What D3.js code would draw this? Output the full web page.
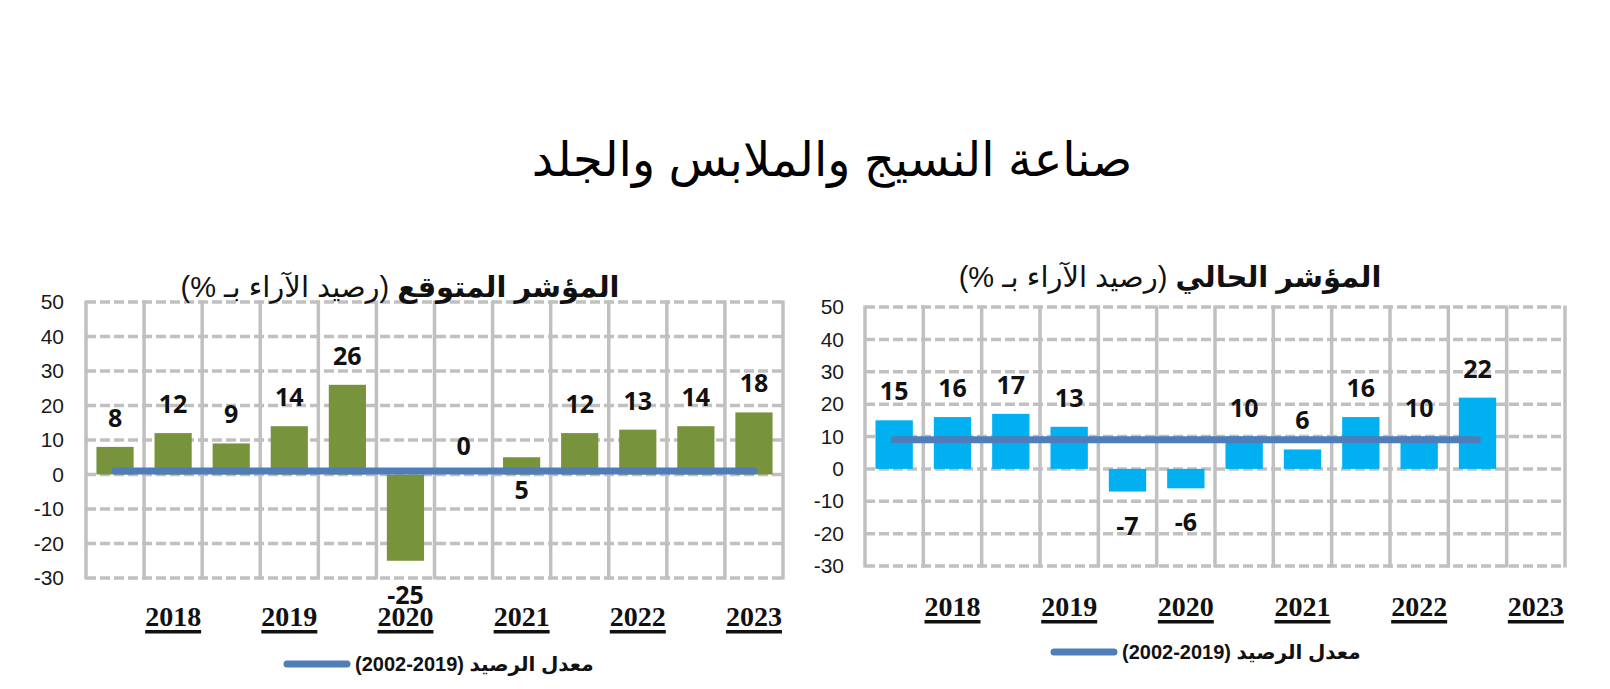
<!DOCTYPE html>
<html><head><meta charset="utf-8">
<script src="https://cdn.jsdelivr.net/npm/d3@7"></script>
<style>
html,body{margin:0;padding:0;background:#fff;}
svg{display:block;}
</style></head>
<body>
<svg id="chart" width="1610" height="689"></svg>
<script>
// ---- data ----
const mainTitle = "صناعة النسيج والملابس والجلد";
const periods = ["2018-S1","2018-S2","2019-S1","2019-S2","2020-S1","2020-S2","2021-S1","2021-S2","2022-S1","2022-S2","2023-S1","2023-S2"];
const yearLabels = ["2018","2019","2020","2021","2022","2023"];
const yearAt = ["2018-S2","2019-S2","2020-S2","2021-S2","2022-S2","2023-S2"];
const yTicks = [50,40,30,20,10,0,-10,-20,-30];

const expectedTitleBold = "المؤشر المتوقع ";
const expectedTitleRest = "(رصيد الآراء بـ %)";
const expectedValues = [8,12,9,14,26,-25,0,5,12,13,14,18];
const expectedLabelPlace = ["end","end","end","end","end","end","end","base","end","end","end","end"];
const expectedAverage = [1,1,1,1,1,1,1,1,1,1,1,1];

const currentTitleBold = "المؤشر الحالي ";
const currentTitleRest = "(رصيد الآراء بـ %)";
const currentValues = [15,16,17,13,-7,-6,10,6,16,10,22,null];
const currentLabelPlace = ["end","end","end","end","end","end","end","end","end","end","end","end"];
const currentAverage = [9,9,9,9,9,9,9,9,9,9,9,null];

const legendArabic = "معدل الرصيد ";
const legendYears = "(2002-2019)";

// ---- drawing ----
const svg = d3.select("#chart");
const arabicFont = "'Liberation Sans', 'DejaVu Sans', sans-serif";
const tickFont = "'Liberation Sans', Arial, sans-serif";
const labelFont = "'Open Sans', 'Liberation Sans', sans-serif";

svg.append("text")
  .attr("x", 832).attr("y", 159)
  .attr("text-anchor", "middle").attr("dominant-baseline", "central")
  .attr("direction", "rtl")
  .style("font-family", "'Liberation Sans', 'DejaVu Sans', sans-serif")
  .style("font-size", "48px").style("fill", "#000")
  .text(mainTitle);

function panel(cfg) {
  const g = svg.append("g");
  const x = d3.scaleBand().domain(periods).range([cfg.x0, cfg.x1]).paddingInner(0.36).paddingOuter(0.18);
  const y = d3.scaleLinear().domain([-30, 50]).range([cfg.yBottom, cfg.yTop]);
  const step = x.step();

  // horizontal dashed gridlines
  g.append("g").selectAll("line").data(yTicks).join("line")
    .attr("x1", cfg.x0).attr("x2", cfg.x1)
    .attr("y1", d => y(d)).attr("y2", d => y(d))
    .attr("stroke", "#c0c0c0").attr("stroke-width", 3.5).attr("stroke-dasharray", "10,4");
  // vertical solid gridlines (category boundaries)
  const vx = periods.map(p => x(p) - (step - x.bandwidth()) / 2).concat([cfg.x1]);
  g.append("g").selectAll("line").data(vx).join("line")
    .attr("x1", d => d).attr("x2", d => d)
    .attr("y1", y(50) - 1.5).attr("y2", y(-30) + 1.5)
    .attr("stroke", "#c0c0c0").attr("stroke-width", 3.5);

  // y axis labels
  const yAxis = d3.axisLeft(y).tickValues(yTicks).tickSize(0).tickPadding(0).tickFormat(d => String(d));
  const ya = g.append("g").attr("transform", `translate(${cfg.tickX},0)`).call(yAxis);
  ya.select(".domain").remove();
  ya.selectAll("text").style("font-family", tickFont).style("font-size", "21px").style("fill", "#1a1a1a");

  // bars
  const data = periods.map((p, i) => ({p, v: cfg.values[i], place: cfg.place[i], avg: cfg.avg[i]}));
  const bd = data.filter(d => d.v !== null);
  g.append("g").selectAll("rect").data(bd).join("rect")
    .attr("x", d => x(d.p)).attr("width", x.bandwidth())
    .attr("y", d => y(Math.max(0, d.v)))
    .attr("height", d => Math.abs(y(d.v) - y(0)))
    .attr("fill", cfg.color);

  // average line
  const line = d3.line().defined(d => d.avg !== null).x(d => x(d.p) + x.bandwidth() / 2).y(d => y(d.avg));
  g.append("path").datum(data).attr("d", line)
    .attr("fill", "none").attr("stroke", "#4f7dba").attr("stroke-width", 7).attr("stroke-linecap", "round");

  // value labels
  g.append("g").selectAll("text").data(bd).join("text")
    .attr("x", d => x(d.p) + x.bandwidth() / 2)
    .attr("y", d => d.place === "base" ? y(0) + 14 : (d.v >= 0 ? y(d.v) - 30 : y(d.v) + 33))
    .attr("text-anchor", "middle").attr("dominant-baseline", "central")
    .style("font-family", labelFont).style("font-weight", "bold").style("font-size", "25px").style("fill", "#111")
    .text(d => d.v);

  // year labels
  const yl = g.append("g").selectAll("g").data(yearLabels).join("g")
    .attr("transform", (d, i) => `translate(${x(yearAt[i]) + x.bandwidth() / 2},${cfg.yearY})`);
  yl.append("text")
    .attr("text-anchor", "middle")
    .style("font-family", "'Liberation Serif', 'Times New Roman', serif").style("font-weight", "bold")
    .style("font-size", "28px").style("fill", "#111")
    .text(d => d);
  yl.each(function() {
    const t = d3.select(this).select("text");
    const w = t.node().getComputedTextLength();
    d3.select(this).append("rect").attr("x", -w / 2).attr("width", w).attr("y", 4).attr("height", 3.5).attr("fill", "#111");
  });

  // title
  const t = g.append("text").attr("x", cfg.titleX).attr("y", cfg.titleY)
    .attr("text-anchor", "middle").attr("dominant-baseline", "central").attr("direction", "rtl")
    .style("font-family", arabicFont).style("font-size", "29px").style("fill", "#111");
  t.append("tspan").style("font-weight", "bold").text(cfg.titleBold);
  t.append("tspan").style("font-weight", "normal").text(cfg.titleRest);

  // legend
  g.append("line").attr("x1", cfg.legX1).attr("x2", cfg.legX2).attr("y1", cfg.legY).attr("y2", cfg.legY)
    .attr("stroke", "#4f7dba").attr("stroke-width", 7).attr("stroke-linecap", "round");
  const lt = g.append("text").attr("x", 0).attr("y", cfg.legY)
    .attr("dominant-baseline", "central").attr("direction", "rtl")
    .style("font-family", arabicFont).style("font-weight", "bold").style("font-size", cfg.legSize + "px").style("fill", "#111")
    .text(legendArabic + "\u2066" + legendYears + "\u2069");
  const bb = lt.node().getBBox();
  lt.attr("x", cfg.legTextLeft - bb.x);
}

panel({x0: 86, x1: 783, yTop: 302, yBottom: 578, tickX: 64, color: "#77933c",
  values: expectedValues, place: expectedLabelPlace, avg: expectedAverage,
  yearY: 626, titleX: 400, titleY: 287, titleBold: expectedTitleBold, titleRest: expectedTitleRest,
  legX1: 287, legX2: 347, legY: 664, legTextLeft: 355, legSize: 20});

panel({x0: 865, x1: 1565, yTop: 307, yBottom: 566, tickX: 844, color: "#00b0f0",
  values: currentValues, place: currentLabelPlace, avg: currentAverage,
  yearY: 616, titleX: 1170, titleY: 277, titleBold: currentTitleBold, titleRest: currentTitleRest,
  legX1: 1054, legX2: 1114, legY: 652, legTextLeft: 1122, legSize: 20});
</script>
</body></html>
